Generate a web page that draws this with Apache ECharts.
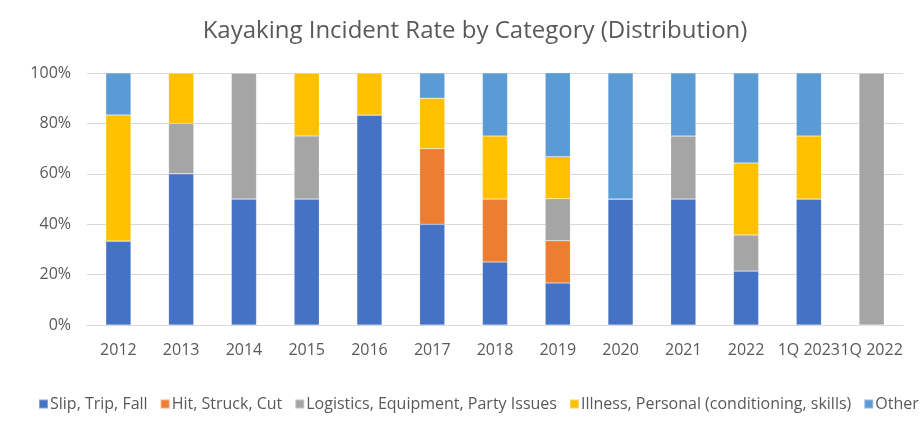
<!DOCTYPE html>
<html>
<head>
<meta charset="utf-8">
<script src="https://cdn.jsdelivr.net/npm/echarts@6/dist/echarts.min.js"></script>
<style>
  html, body { margin: 0; padding: 0; background: #fff; }
  #chart { width: 924px; height: 445px; }
  .frame { position: absolute; left: 10px; top: 0; width: 1px; height: 445px; background: #d9d9d9; }
</style>
</head>
<body>
<div class="frame"></div>
<div id="chart"></div>
<script>
const categories = ['2012', '2013', '2014', '2015', '2016', '2017', '2018', '2019', '2020', '2021', '2022', '1Q 2023', '1Q 2022']

// shares in percent
const slipTripFall = [33.3, 60, 50, 50, 83.3, 40, 25, 16.7, 50, 50, 21.4, 50, 0]
const hitStruckCut = [0, 0, 0, 0, 0, 30, 25, 16.7, 0, 0, 0, 0, 0]
const logistics = [0, 20, 50, 25, 0, 0, 0, 16.7, 0, 25, 14.3, 0, 100]
const illness = [50, 20, 0, 25, 16.7, 20, 25, 16.7, 0, 0, 28.6, 25, 0]
const other = [16.7, 0, 0, 0, 0, 10, 25, 33.3, 50, 25, 35.7, 25, 0]

const yTicks = [0, 20, 40, 60, 80, 100]

const seriesDefs = [
  { name: 'Slip, Trip, Fall', data: slipTripFall, color: '#4472C4' },
  { name: 'Hit, Struck, Cut', data: hitStruckCut, color: '#ED7D31' },
  { name: 'Logistics, Equipment, Party Issues', data: logistics, color: '#A5A5A5' },
  { name: 'Illness, Personal (conditioning, skills)', data: illness, color: '#FFC000' },
  { name: 'Other', data: other, color: '#5B9BD5' }
]

const font = 'Open Sans, sans-serif'
const chart = echarts.init(document.getElementById('chart'))

chart.setOption({
  animation: false,
  backgroundColor: '#fff',
  title: {
    text: 'Kayaking Incident Rate by Category (Distribution)',
    left: 470,
    textAlign: 'center',
    top: 14,
    textStyle: { color: '#595959', fontSize: 24, fontWeight: 'normal', fontFamily: font }
  },
  legend: {
    bottom: 28,
    left: 33,
    itemWidth: 9,
    itemHeight: 9,
    itemGap: 12,
    icon: 'rect',
    textStyle: { color: '#595959', fontSize: 16, fontFamily: font, padding: [0, 0, 0, -3] }
  },
  grid: { left: 87, right: 21, top: 73, bottom: 120 },
  xAxis: {
    type: 'category',
    data: categories,
    axisTick: { show: false },
    axisLine: { lineStyle: { color: '#d9d9d9' } },
    axisLabel: { color: '#595959', fontSize: 16, fontFamily: font, margin: 17, interval: 0 }
  },
  yAxis: {
    type: 'value',
    min: yTicks[0],
    max: yTicks[yTicks.length - 1],
    interval: 20,
    axisLine: { show: false },
    axisTick: { show: false },
    splitLine: { lineStyle: { color: '#d9d9d9' } },
    axisLabel: { color: '#595959', fontSize: 16, fontFamily: font, margin: 16, formatter: v => v + '%' }
  },
  series: seriesDefs.map(s => ({
    name: s.name,
    type: 'bar',
    stack: 'total',
    barWidth: '40%',
    data: s.data,
    itemStyle: { color: s.color, borderColor: 'rgba(255,255,255,0.35)', borderWidth: 0.5 }
  }))
})
</script>
</body>
</html>
